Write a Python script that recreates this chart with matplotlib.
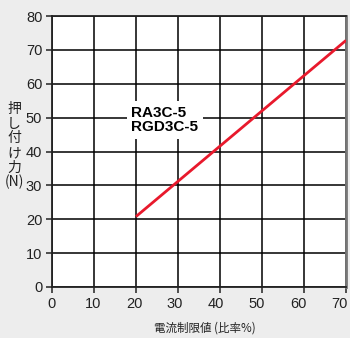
import matplotlib
matplotlib.use("Agg")
import matplotlib.pyplot as plt
from matplotlib import transforms

plt.rcParams['font.family'] = ['Liberation Sans', 'DejaVu Sans']

# Pushing force vs. current limit ratio
current_pct = [20, 70]
force_n = [20.8, 72.8]

x_ticks = [0, 10, 20, 30, 40, 50, 60, 70]
y_ticks = [0, 10, 20, 30, 40, 50, 60, 70, 80]
model_labels = ["RA3C-5", "RGD3C-5"]

bg = "#ededed"
fig = plt.figure(figsize=(3.5, 3.38), dpi=100, facecolor=bg)
ax = fig.add_axes([52/350, 1 - 287/338, 294/350, 271/338])
ax.set_facecolor("white")

ax.plot(current_pct, force_n, color="#e8192c", lw=2.0, solid_capstyle="butt", zorder=3)

ax.set_xlim(0, 70)
ax.set_ylim(0, 80)
ax.set_xticks(x_ticks)
ax.set_yticks(y_ticks)
ax.grid(True, color="black", lw=1.1, zorder=1)
ax.set_axisbelow(True)
for s in ax.spines.values():
    s.set_linewidth(1.3)
    s.set_color("#222222")
ax.spines['right'].set_color("#777777")
ax.spines['right'].set_linewidth(2)
ax.tick_params(direction="out", length=4, width=1.1, labelsize=10.5, colors="#222222", pad=3)

# x tick labels sit slightly tighter than the grid, so nudge them leftwards
for val, lab in zip(x_ticks, ax.get_xticklabels()):
    dx = -5.0 * val / 70 / 72
    lab.set_transform(lab.get_transform() + transforms.ScaledTranslation(dx, 0, fig.dpi_scale_trans))

ax.text(0.27, 0.616, "\n".join(model_labels), transform=ax.transAxes,
        fontsize=11, fontweight="bold",
        ha="left", va="center", linespacing=1.0, zorder=4,
        bbox=dict(boxstyle="square,pad=0.3", fc="white", ec="none"))

fig.text(14/350, 1 - 146/338, "押\nし\n付\nけ\n力\n(N)", ha="center", va="center",
         fontsize=10, linespacing=1.05, color="#222222",
         family=['Noto Sans CJK JP', 'DejaVu Sans'])
fig.text(205/350, 1 - 328/338, "電流制限値 (比率%)", ha="center", va="center",
         fontsize=8.3, color="#222222", family=['Noto Sans CJK JP', 'DejaVu Sans'])

fig.savefig("out.png", dpi=100, facecolor=bg)
